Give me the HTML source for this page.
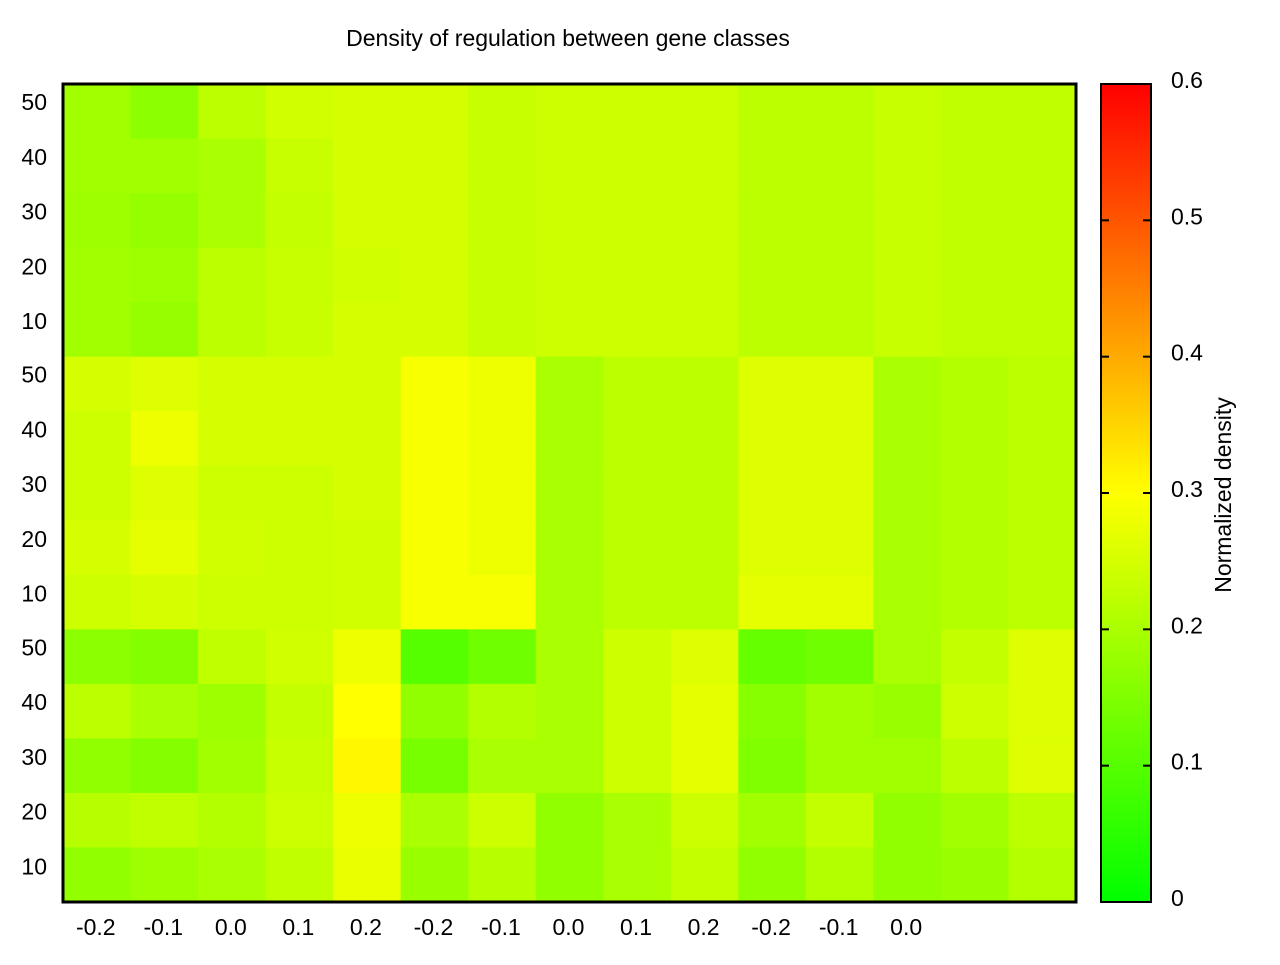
<!DOCTYPE html>
<html><head><meta charset="utf-8"><style>
body{margin:0;background:#fff;}
svg text{font-family:"Liberation Sans",sans-serif;fill:#000;}
</style></head><body>
<svg id="chart" width="1280" height="960" xmlns="http://www.w3.org/2000/svg">
<text x="568" y="46" font-size="23" text-anchor="middle">Density of regulation between gene classes</text>
<g id="cells"></g>
<rect x="63" y="84" width="1013" height="818" fill="none" stroke="#000" stroke-width="3"/>
<g id="yticks"></g>
<g id="xticks"></g>
<defs><linearGradient id="cb" x1="0" y1="1" x2="0" y2="0">
<stop offset="0" stop-color="#00ff00"/><stop offset="0.5" stop-color="#ffff00"/><stop offset="1" stop-color="#ff0000"/></linearGradient></defs>
<rect x="1101" y="84" width="50" height="818" fill="url(#cb)" stroke="#000" stroke-width="2"/>
<g id="cbticks"></g>
<text transform="translate(1231,495) rotate(-90)" font-size="23" text-anchor="middle">Normalized density</text>
</svg>
<script>
const xLabels=["-0.2","-0.1","0.0","0.1","0.2","-0.2","-0.1","0.0","0.1","0.2","-0.2","-0.1","0.0"];
const yLabels=[50,40,30,20,10];
const cbTicks=[0,0.1,0.2,0.3,0.4,0.5,0.6];
// rows: 3 bands x 5 blocks (top to bottom), 15 columns each
const band1=[
[.19,.165,.22,.245,.25,.25,.235,.24,.24,.24,.22,.22,.235,.225,.225],
[.19,.19,.20,.235,.25,.25,.235,.24,.24,.24,.22,.22,.235,.225,.225],
[.185,.175,.20,.23,.25,.25,.235,.24,.24,.24,.22,.22,.235,.225,.225],
[.19,.185,.22,.235,.245,.25,.235,.24,.24,.24,.22,.22,.235,.225,.225],
[.19,.175,.22,.235,.25,.25,.235,.24,.24,.24,.22,.22,.235,.225,.225]];
const band2=[
[.25,.26,.25,.25,.25,.29,.28,.20,.22,.22,.26,.26,.20,.21,.22],
[.24,.28,.25,.25,.25,.29,.28,.20,.22,.22,.26,.26,.20,.21,.22],
[.24,.26,.24,.24,.25,.29,.28,.20,.22,.22,.26,.26,.20,.21,.22],
[.25,.27,.245,.24,.245,.29,.28,.20,.22,.22,.26,.26,.20,.21,.22],
[.24,.25,.24,.24,.245,.29,.29,.20,.22,.22,.27,.27,.20,.21,.22]];
const band3=[
[.165,.155,.225,.245,.28,.10,.13,.20,.24,.26,.12,.13,.20,.23,.26],
[.22,.20,.185,.23,.30,.17,.21,.20,.24,.27,.16,.19,.18,.24,.26],
[.17,.155,.19,.235,.31,.14,.20,.20,.24,.27,.15,.19,.19,.22,.26],
[.215,.225,.21,.24,.28,.20,.24,.17,.20,.24,.19,.23,.17,.19,.22],
[.17,.185,.20,.225,.275,.18,.215,.17,.20,.23,.17,.21,.17,.18,.21]];
const bands=[band1,band2,band3];
const NS="http://www.w3.org/2000/svg";
const X0=63,X1=1076,Y0=84,Y1=902,CB0=84,CB1=902;
const nCols=15,bandH=(Y1-Y0)/3;
function xPos(i){return X0+i*(X1-X0)/nCols;}
function bandY(b,r){return Y0+b*bandH+r*bandH/5;}
function labelY(b,v){return Y0+b*bandH+18+(50-v)*5.475;}
function cbY(v){return CB1-(v/0.6)*(CB1-CB0);}
function color(v){let r,g;if(v<=0.3){r=v/0.3;g=1;}else{r=1;g=Math.max(0,1-(v-0.3)/0.3);}return `rgb(${Math.round(r*255)},${Math.round(g*255)},0)`;}
function mk(t,a,p){const e=document.createElementNS(NS,t);for(const k in a)e.setAttribute(k,a[k]);p.appendChild(e);return e;}
const cells=document.getElementById('cells');
bands.forEach((band,b)=>band.forEach((row,r)=>row.forEach((v,c)=>{
 const e=mk('rect',{x:xPos(c),y:bandY(b,r),width:xPos(c+1)-xPos(c)+0.5,height:bandH/5+0.5,fill:color(v)},cells);
 
 
})));
const yt=document.getElementById('yticks');
for(let b=0;b<3;b++)yLabels.forEach(v=>{
 const t=mk('text',{x:47,y:labelY(b,v)+8,'font-size':23,'text-anchor':'end'},yt);t.textContent=v;
 
 
});
const xt=document.getElementById('xticks');
xLabels.forEach((l,i)=>{
 const t=mk('text',{x:(xPos(i)+xPos(i+1))/2-1,y:935,'font-size':23,'text-anchor':'middle'},xt);t.textContent=l;
 
 
});
const cbt=document.getElementById('cbticks');
cbTicks.forEach(v=>{
 const y=cbY(v);
 if(v>0&&v<0.6){mk('line',{x1:1101,x2:1109,y1:y,y2:y,stroke:'#000','stroke-width':2},cbt);mk('line',{x1:1143,x2:1151,y1:y,y2:y,stroke:'#000','stroke-width':2},cbt);}
 const t=mk('text',{x:1171,y:y+4,'font-size':23},cbt);t.textContent=v===0?'0':v.toFixed(1);
 
 
});
</script>
</body></html>
